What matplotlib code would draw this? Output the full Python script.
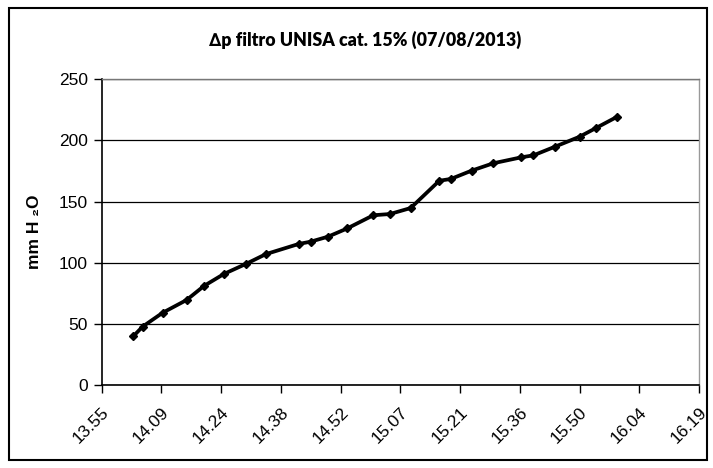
import matplotlib.pyplot as plt
from matplotlib.patches import Rectangle

# minutes after 13:55 for each reading, and pressure drop in mm H2O
minutes = [7.7, 9.9, 14.7, 20.5, 24.7, 29.5, 34.8, 39.6, 47.5, 50.4, 54.6, 59.2, 65.5,
           69.5, 74.5, 81.4, 84.2, 89.2, 94.4, 101.2, 104.1, 109.3, 115.2, 119.2, 124.3]
dp = [40, 47.7, 59, 69.5, 81, 90.8, 99, 107, 115.3, 117.2, 121.3, 128, 138.8,
      139.8, 144.7, 167, 168.5, 175.3, 181.3, 186.2, 187.8, 194.9, 203, 210.2, 219.4]

tick_labels = ['13.55', '14.09', '14.24', '14.38', '14.52', '15.07',
               '15.21', '15.36', '15.50', '16.04', '16.19']
span = 144.0  # 13:55 -> 16:19

fig = plt.figure(figsize=(7.13, 4.68), dpi=100)
ax = fig.add_axes([0.1424, 0.1774, 0.838, 0.6532])

ax.plot(minutes, dp, color='black', lw=2.7, marker='D', ms=4.5, mfc='black', mec='black',
        zorder=3)

ax.set_xlim(0, span)
ax.set_ylim(0, 250)
ax.set_yticks(range(0, 251, 50))
ax.yaxis.grid(True, color='black', lw=0.9)
ax.set_axisbelow(True)

step = span / (len(tick_labels) - 1)
ax.set_xticks([i * step for i in range(len(tick_labels))])
ax.set_xticklabels(tick_labels, rotation=45, ha='right', rotation_mode='anchor',
                   family='Liberation Sans', fontsize=12.5)
for lab in ax.get_yticklabels():
    lab.set_family('Liberation Sans')
    lab.set_fontsize(12.5)

ax.tick_params(axis='both', direction='out', length=6, width=1, color='black', pad=4)
ax.tick_params(axis='x', pad=8)

for s in ['left', 'bottom']:
    ax.spines[s].set_color('black')
    ax.spines[s].set_linewidth(1.2)
ax.spines['right'].set_color('#999999')
ax.spines['right'].set_linewidth(1)
ax.spines['top'].set_color('#777777')
ax.spines['top'].set_linewidth(1)

ax.set_ylabel('mm H \u2082O', family=['Liberation Sans', 'DejaVu Sans'], fontweight='bold',
              fontsize=12.5, labelpad=12)

fig.text(0.512, 0.915, '\u2206p filtro UNISA cat. 15% (07/08/2013)', ha='center', va='center',
         family=['Lato', 'DejaVu Sans'], fontweight='heavy', fontsize=12.8)

fig.patches.append(Rectangle((9 / 713, 8 / 468), 698 / 713, 452 / 468, transform=fig.transFigure,
                             fill=False, edgecolor='black', lw=1.5))

fig.savefig('out.png', dpi=100)
